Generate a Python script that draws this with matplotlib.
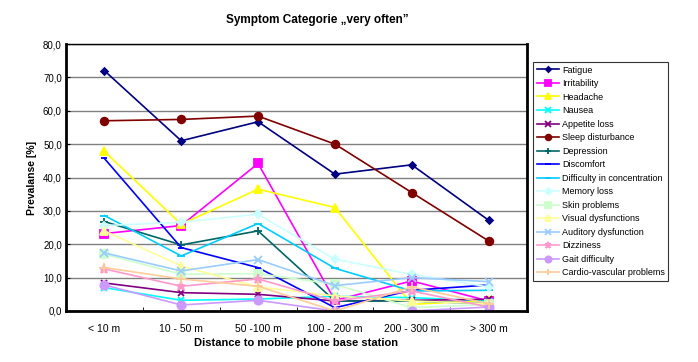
import numpy as np
import matplotlib
matplotlib.use('Agg')
import matplotlib.pyplot as plt

plt.rcParams['font.family'] = ['Liberation Sans', 'DejaVu Sans']

# categories on the x axis
distances = ['< 10 m', '10 - 50 m', '50 -100 m', '100 - 200 m', '200 - 300 m', '> 300 m']

# prevalence values [%] per symptom
fatigue = [72.0, 51.0, 56.7, 41.0, 43.8, 27.2]
irritability = [23.2, 25.6, 44.2, 3.2, 9.0, 3.0]
headache = [47.8, 26.0, 36.5, 31.0, 2.0, 3.2]
nausea = [7.0, 3.2, 3.6, 4.4, 4.0, 3.0]
appetite_loss = [8.4, 5.5, 5.0, 3.0, 3.2, 3.5]
sleep_disturbance = [57.0, 57.4, 58.4, 50.0, 35.5, 21.0]
depression = [26.8, 19.8, 24.0, 3.0, 3.0, 2.2]
discomfort = [45.7, 19.0, 13.0, 1.0, 6.2, 7.8]
concentration = [28.6, 16.5, 26.2, 12.8, 6.0, 6.2]
memory_loss = [25.6, 26.6, 29.0, 15.5, 11.0, 7.2]
skin_problems = [17.0, 11.0, 11.2, 8.0, 1.0, 2.0]
visual = [24.0, 13.5, 7.2, 4.5, 3.0, 2.2]
auditory = [17.4, 12.0, 15.4, 7.6, 10.0, 8.8]
dizziness = [12.6, 7.4, 9.6, 3.0, 6.0, 1.2]
gait = [7.8, 1.8, 3.2, 0.0, 0.0, 1.2]
cardio = [13.0, 9.6, 7.4, 0.0, 7.2, 2.2]

series = [
    ('Fatigue', fatigue, '#000080', 'D', 3.5),
    ('Irritability', irritability, '#FF00FF', 's', 5.5),
    ('Headache', headache, '#FFFF00', '^', 5.5),
    ('Nausea', nausea, '#00FFFF', 'x', 5),
    ('Appetite loss', appetite_loss, '#800080', 'x', 5),
    ('Sleep disturbance', sleep_disturbance, '#800000', 'o', 5.5),
    ('Depression', depression, '#006666', '+', 5.5),
    ('Discomfort', discomfort, '#0000FF', '_', 5),
    ('Difficulty in concentration', concentration, '#00CCFF', '_', 6),
    ('Memory loss', memory_loss, '#CCFFFF', 'D', 4.5),
    ('Skin problems', skin_problems, '#CCFFCC', 's', 5.5),
    ('Visual dysfunctions', visual, '#FFFF99', '^', 5.5),
    ('Auditory dysfunction', auditory, '#99CCFF', 'x', 5.5),
    ('Dizziness', dizziness, '#FF99CC', '*', 6.5),
    ('Gait difficulty', gait, '#CC99FF', 'o', 6),
    ('Cardio-vascular problems', cardio, '#FFCC99', '+', 6.5),
]

fig = plt.figure(figsize=(6.98, 3.62), dpi=100)
ax = fig.add_axes([66 / 698, 1 - 311 / 362, 461 / 698, 267 / 362])

x = np.arange(len(distances))
for name, vals, color, marker, ms in series:
    ax.plot(x, vals, color=color, marker=marker, markersize=ms, lw=1.2,
            markeredgewidth=1.3, label=name)

ax.set_xlim(-0.5, len(distances) - 0.5)
ax.set_ylim(0, 80)
ax.set_yticks(np.arange(0, 81, 10))
ax.set_yticklabels([f'{v:.1f}'.replace('.', ',') for v in np.arange(0, 81, 10)], fontsize=7)
ax.set_xticks(x)
ax.set_xticklabels(distances, fontsize=7.5)
ax.set_xticks(np.arange(-0.5, len(distances), 1), minor=True)
ax.tick_params(axis='x', which='major', length=0, pad=9)
ax.tick_params(axis='x', which='minor', length=3, direction='in')
ax.tick_params(axis='y', length=3, direction='in', pad=3)
ax.yaxis.grid(True, color='#808080', lw=1.0)
ax.set_axisbelow(True)
for side in ['left', 'bottom', 'right']:
    ax.spines[side].set_linewidth(2.0)
ax.spines['top'].set_linewidth(1.0)

ax.set_ylabel('Prevalanse [%]', fontsize=7.5, fontweight='bold', labelpad=4)
ax.set_xlabel('Distance to mobile phone base station', fontsize=8, fontweight='bold', labelpad=3)
fig.text(0.455, 1 - 20 / 362, 'Symptom Categorie \u201every often\u201d', fontsize=8.5,
         fontweight='bold', ha='center', va='center')

leg = fig.legend(loc='upper left', bbox_to_anchor=(533 / 698, 1 - 62 / 362), fontsize=6.5,
                 frameon=True, fancybox=False, edgecolor='black', handlelength=2.5,
                 handletextpad=0.3, labelspacing=0.5, borderpad=0.4, borderaxespad=0,
                 markerscale=0.75)
leg.get_frame().set_linewidth(0.8)

fig.savefig('out.png', dpi=100)
